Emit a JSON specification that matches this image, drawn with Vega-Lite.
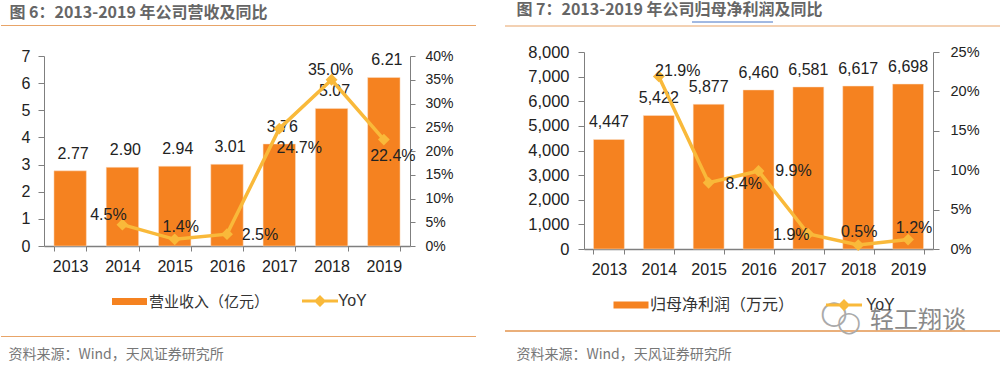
{"$schema":"https://vega.github.io/schema/vega-lite/v6.json","padding":{"top":1,"left":0,"right":0,"bottom":0},"background":"white","spacing":27,"config":{"view":{"stroke":null},"font":"Liberation Sans"},
"resolve":{"scale":{"color":"independent","fill":"independent"},"legend":{"color":"independent","fill":"independent"}},
"hconcat":[
{"vconcat":[
{"width":366,"height":1,"title":{"text":"图 6：2013-2019 年公司营收及同比","anchor":"start","dx":9,"offset":4,"font":"Noto Sans CJK SC","fontSize":16,"fontWeight":"bold","color":"#666666"},"data":{"values":[{"a":1}]},"mark":{"type":"rule","color":"#E8A468","strokeWidth":1.2},"encoding":{"x":{"datum":-43,"type":"quantitative","axis":null,"scale":{"domain":[0,366],"nice":false,"zero":false}},"x2":{"datum":432}}},
{"width":366,"height":190,
"data":{"values":[{"year":"2013","revenue":2.77,"yoy":null},{"year":"2014","revenue":2.90,"yoy":0.045},{"year":"2015","revenue":2.94,"yoy":0.014},{"year":"2016","revenue":3.01,"yoy":0.025},{"year":"2017","revenue":3.76,"yoy":0.247},{"year":"2018","revenue":5.07,"yoy":0.35},{"year":"2019","revenue":6.21,"yoy":0.224}]},
"encoding":{"x":{"field":"year","type":"nominal","title":" ","scale":{"paddingInner":0.38,"paddingOuter":0.19},"axis":{"labelAngle":0,"tickBand":"extent","labelFontSize":16,"labelColor":"#222222","labelPadding":7,"domainColor":"#7F7F7F","tickColor":"#7F7F7F","domainWidth":1.5,"tickSize":5,"grid":false,"titleFontSize":1,"titlePadding":39}}},
"layer":[
{"encoding":{"y":{"field":"revenue","type":"quantitative","title":null,"scale":{"domain":[0,7],"nice":false},"axis":{"values":[0,1,2,3,4,5,6,7],"labelFontSize":16,"labelColor":"#222222","labelPadding":8,"domainColor":"#7F7F7F","tickColor":"#7F7F7F","tickSize":6,"grid":false}}},
"layer":[
{"mark":{"type":"bar","stroke":"#FBE3CC","strokeWidth":0.5},"encoding":{"fill":{"datum":"营业收入（亿元）","type":"nominal","scale":{"domain":["营业收入（亿元）"],"range":["#F58220"]},"legend":{"title":null,"orient":"none","legendX":78,"legendY":269,"padding":0,"symbolSize":100,"symbolType":"M-3.5,-0.7H3.5V0.7H-3.5Z","symbolStrokeWidth":0,"symbolOpacity":1,"labelOffset":12,"labelFontSize":15,"labelFont":"Noto Sans CJK SC","labelColor":"#333333","labelLimit":300}}}},
{"mark":{"type":"text","dy":-17,"dx":3,"fontSize":16,"color":"#222222"},"encoding":{"text":{"field":"revenue","type":"quantitative","format":".2f"}}}
]},
{"transform":[{"filter":"datum.yoy != null"}],"encoding":{"y":{"field":"yoy","type":"quantitative","title":null,"scale":{"domain":[0,0.4],"nice":false},"axis":{"orient":"right","values":[0,0.05,0.1,0.15,0.2,0.25,0.3,0.35,0.4],"format":".0%","labelFontSize":14,"labelColor":"#222222","labelPadding":10,"domainColor":"#7F7F7F","tickColor":"#7F7F7F","tickSize":5,"grid":false}}},
"layer":[
{"mark":{"type":"line","color":"#F9B93A","strokeWidth":3.5}},
{"mark":{"type":"point","shape":"diamond","filled":true,"size":140,"opacity":1},"encoding":{"color":{"datum":"YoY","type":"nominal","scale":{"domain":["YoY"],"range":["#F9B93A"]},"legend":{"title":null,"orient":"none","legendX":268,"legendY":268,"padding":0,"symbolSize":100,"symbolType":"M-3.6,-0.3H-0.9L0,-1.2L0.9,-0.3H3.6V0.3H0.9L0,1.2L-0.9,0.3H-3.6Z","symbolStrokeWidth":0,"symbolOpacity":1,"labelOffset":10,"labelFontSize":16,"labelColor":"#333333","labelLimit":300}}}},
{"transform":[{"filter":"datum.year==='2014'"}],"mark":{"type":"text","dx":-14,"dy":-10,"fontSize":16,"color":"#222222"},"encoding":{"text":{"field":"yoy","type":"quantitative","format":".1%"}}},
{"transform":[{"filter":"datum.year==='2015'"}],"mark":{"type":"text","dx":6,"dy":-12,"fontSize":16,"color":"#222222"},"encoding":{"text":{"field":"yoy","type":"quantitative","format":".1%"}}},
{"transform":[{"filter":"datum.year==='2016'"}],"mark":{"type":"text","dx":33,"dy":1,"fontSize":16,"color":"#222222"},"encoding":{"text":{"field":"yoy","type":"quantitative","format":".1%"}}},
{"transform":[{"filter":"datum.year==='2017'"}],"mark":{"type":"text","dx":20,"dy":19,"fontSize":16,"color":"#222222"},"encoding":{"text":{"field":"yoy","type":"quantitative","format":".1%"}}},
{"transform":[{"filter":"datum.year==='2018'"}],"mark":{"type":"text","dx":-1,"dy":-10,"fontSize":16,"color":"#222222"},"encoding":{"text":{"field":"yoy","type":"quantitative","format":".1%"}}},
{"transform":[{"filter":"datum.year==='2019'"}],"mark":{"type":"text","dx":9,"dy":16,"fontSize":16,"color":"#222222"},"encoding":{"text":{"field":"yoy","type":"quantitative","format":".1%"}}}
]}
],"resolve":{"scale":{"y":"independent"}}},
{"width":366,"height":1,"title":{"text":"资料来源：Wind，天风证券研究所","orient":"bottom","anchor":"start","dx":8,"offset":11,"font":"Noto Sans CJK SC","fontSize":14,"fontWeight":"normal","color":"#777777"},"data":{"values":[{"a":1}]},"mark":{"type":"rule","color":"#E8A468","strokeWidth":1.2},"encoding":{"x":{"datum":-43,"type":"quantitative","axis":null,"scale":{"domain":[0,366],"nice":false,"zero":false}},"x2":{"datum":432}}}
],"spacing":21},
{"vconcat":[
{"width":349,"height":1,"title":{"text":"图 7：2013-2019 年公司归母净利润及同比","anchor":"start","dx":12,"offset":4,"font":"Noto Sans CJK SC","fontSize":16,"fontWeight":"bold","color":"#666666"},"data":{"values":[{"a":1}]},
"encoding":{"x":{"datum":-79,"type":"quantitative","axis":null,"scale":{"domain":[0,349],"nice":false,"zero":false}},"x2":{"datum":417},"y":{"datum":0,"type":"quantitative","axis":null,"scale":{"domain":[0,1],"nice":false,"zero":false}}},
"layer":[
{"mark":{"type":"rule","color":"#E8A468","strokeWidth":1.2}},
{"mark":{"type":"rule","color":"#4472C4","strokeWidth":1},"encoding":{"x":{"datum":108},"x2":{"datum":189},"y":{"datum":4}}}
]},
{"width":349,"height":197,
"data":{"values":[{"year":"2013","profit":4447,"yoy":null},{"year":"2014","profit":5422,"yoy":0.219},{"year":"2015","profit":5877,"yoy":0.084},{"year":"2016","profit":6460,"yoy":0.099},{"year":"2017","profit":6581,"yoy":0.019},{"year":"2018","profit":6617,"yoy":0.005},{"year":"2019","profit":6698,"yoy":0.012}]},
"encoding":{"x":{"field":"year","type":"nominal","title":" ","scale":{"paddingInner":0.38,"paddingOuter":0.19},"axis":{"labelAngle":0,"tickBand":"extent","labelFontSize":16,"labelColor":"#222222","labelPadding":7,"domainColor":"#7F7F7F","tickColor":"#7F7F7F","domainWidth":1.5,"tickSize":5,"grid":false,"titleFontSize":1,"titlePadding":2}}},
"layer":[
{"encoding":{"y":{"field":"profit","type":"quantitative","title":null,"scale":{"domain":[0,8000],"nice":false},"axis":{"values":[0,1000,2000,3000,4000,5000,6000,7000,8000],"format":",d","labelFontSize":16.5,"labelColor":"#222222","labelPadding":9,"domainColor":"#7F7F7F","tickColor":"#7F7F7F","tickSize":6,"grid":false}}},
"layer":[
{"mark":{"type":"bar","stroke":"#FBE3CC","strokeWidth":0.5},"encoding":{"fill":{"datum":"归母净利润（万元）","type":"nominal","scale":{"domain":["归母净利润（万元）"],"range":["#F58220"]},"legend":{"title":null,"orient":"none","legendX":39,"legendY":272,"padding":0,"symbolSize":100,"symbolType":"M-3.5,-0.7H3.5V0.7H-3.5Z","symbolStrokeWidth":0,"symbolOpacity":1,"labelOffset":11,"labelFontSize":16,"labelFont":"Noto Sans CJK SC","labelColor":"#333333","labelLimit":300}}}},
{"mark":{"type":"text","dy":-17,"fontSize":16,"color":"#222222"},"encoding":{"text":{"field":"profit","type":"quantitative","format":",d"}}}
]},
{"transform":[{"filter":"datum.yoy != null"}],"encoding":{"y":{"field":"yoy","type":"quantitative","title":null,"scale":{"domain":[0,0.25],"nice":false},"axis":{"orient":"right","values":[0,0.05,0.1,0.15,0.2,0.25],"format":".0%","labelFontSize":14.5,"labelColor":"#222222","labelPadding":11,"domainColor":"#7F7F7F","tickColor":"#7F7F7F","tickSize":6,"grid":false}}},
"layer":[
{"mark":{"type":"line","color":"#F9B93A","strokeWidth":3.5}},
{"mark":{"type":"point","shape":"diamond","filled":true,"size":140,"opacity":1},"encoding":{"color":{"datum":"YoY","type":"nominal","scale":{"domain":["YoY"],"range":["#F9B93A"]},"legend":{"title":null,"orient":"none","legendX":252,"legendY":272,"padding":0,"symbolSize":100,"symbolType":"M-3.6,-0.3H-0.9L0,-1.2L0.9,-0.3H3.6V0.3H0.9L0,1.2L-0.9,0.3H-3.6Z","symbolStrokeWidth":0,"symbolOpacity":1,"labelOffset":14,"labelFontSize":16,"labelColor":"#333333","labelLimit":300}}}},
{"transform":[{"filter":"datum.year==='2014'"}],"mark":{"type":"text","dx":19,"dy":-5,"fontSize":16,"color":"#222222"},"encoding":{"text":{"field":"yoy","type":"quantitative","format":".1%"}}},
{"transform":[{"filter":"datum.year==='2015'"}],"mark":{"type":"text","dx":35,"dy":1,"fontSize":16,"color":"#222222"},"encoding":{"text":{"field":"yoy","type":"quantitative","format":".1%"}}},
{"transform":[{"filter":"datum.year==='2016'"}],"mark":{"type":"text","dx":35,"dy":0,"fontSize":16,"color":"#222222"},"encoding":{"text":{"field":"yoy","type":"quantitative","format":".1%"}}},
{"transform":[{"filter":"datum.year==='2017'"}],"mark":{"type":"text","dx":-17,"dy":1,"fontSize":16,"color":"#222222"},"encoding":{"text":{"field":"yoy","type":"quantitative","format":".1%"}}},
{"transform":[{"filter":"datum.year==='2018'"}],"mark":{"type":"text","dx":1,"dy":-13,"fontSize":16,"color":"#222222"},"encoding":{"text":{"field":"yoy","type":"quantitative","format":".1%"}}},
{"transform":[{"filter":"datum.year==='2019'"}],"mark":{"type":"text","dx":6,"dy":-12,"fontSize":16,"color":"#222222"},"encoding":{"text":{"field":"yoy","type":"quantitative","format":".1%"}}}
]}
],"resolve":{"scale":{"y":"independent"}}},
{"width":349,"height":1,"title":{"text":"资料来源：Wind，天风证券研究所","orient":"bottom","anchor":"start","dx":12,"offset":11,"font":"Noto Sans CJK SC","fontSize":14,"fontWeight":"normal","color":"#777777"},
"data":{"values":[{"px":334,"py":10,"note":"轻工翔谈","kind":"w"},{"px":250,"py":18,"note":"○","kind":"a"},{"px":265,"py":8,"note":"○","kind":"b"}]},
"encoding":{"x":{"field":"px","type":"quantitative","axis":null,"scale":{"domain":[0,349],"nice":false,"zero":false}},"y":{"field":"py","type":"quantitative","axis":null,"scale":{"domain":[0,1],"nice":false,"zero":false}}},
"layer":[
{"mark":{"type":"rule","color":"#E8A468","strokeWidth":1.2},"encoding":{"x":{"datum":-79},"x2":{"datum":417},"y":{"datum":0}}},
{"transform":[{"filter":"datum.kind==='w'"}],"mark":{"type":"text","fontSize":24,"font":"Noto Sans CJK SC","color":"#8A8A8A","clip":false},"encoding":{"text":{"field":"note"}}},
{"transform":[{"filter":"datum.kind==='a'"}],"mark":{"type":"text","fontSize":32,"font":"DejaVu Sans","color":"#AAAAAA","clip":false},"encoding":{"text":{"field":"note"}}},
{"transform":[{"filter":"datum.kind==='b'"}],"mark":{"type":"text","fontSize":28,"font":"DejaVu Sans","color":"#AAAAAA","clip":false},"encoding":{"text":{"field":"note"}}}
]}
],"spacing":17}
]}
